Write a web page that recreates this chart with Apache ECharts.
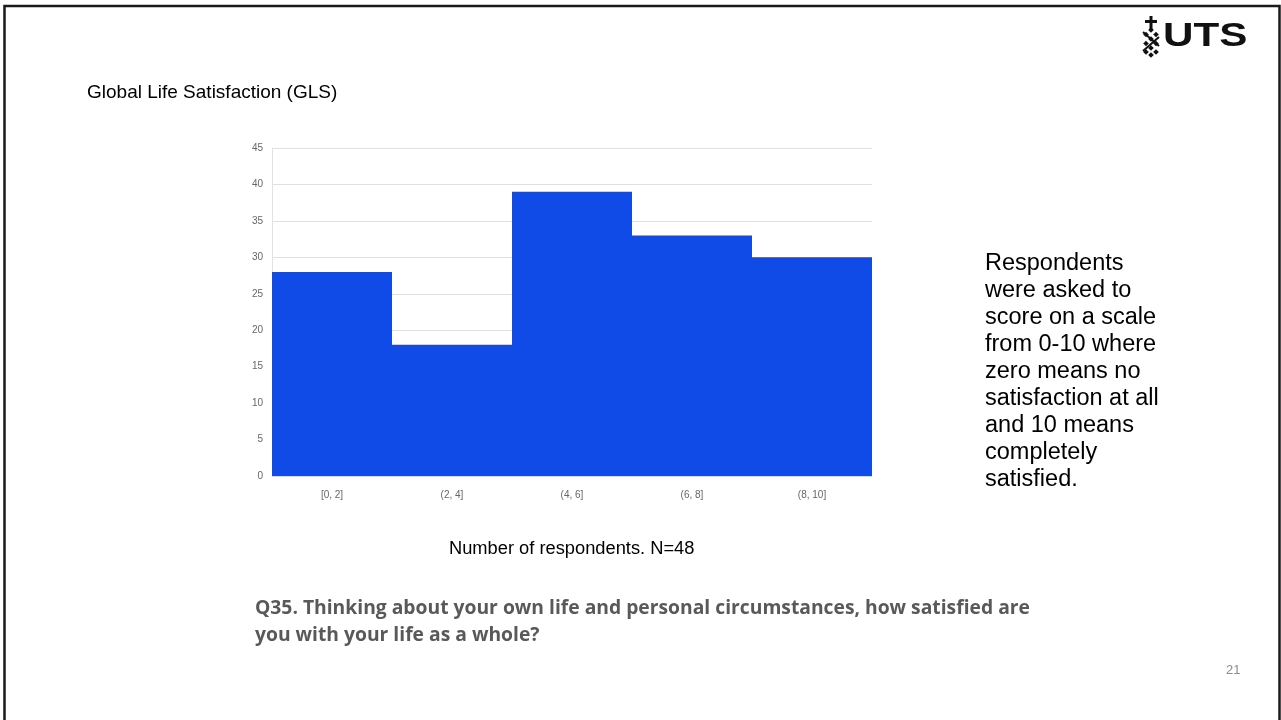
<!DOCTYPE html>
<html>
<head>
<meta charset="utf-8">
<script src="https://cdn.jsdelivr.net/npm/echarts@6/dist/echarts.min.js"></script>
<style>
  html, body { margin: 0; padding: 0; background: #fff; }
  #chart { width: 1281px; height: 720px; }
</style>
</head>
<body>
<div id="chart"></div>
<script>
// Score bins and respondent counts per bin
const bins = ['[0, 2]', '(2, 4]', '(4, 6]', '(6, 8]', '(8, 10]'];
const counts = [28, 18, 39, 33, 30];
const yTicks = [0, 5, 10, 15, 20, 25, 30, 35, 40, 45];

const slideTitle = 'Global Life Satisfaction (GLS)';
const chartCaption = 'Number of respondents. N=48';
const noteLines = [
  'Respondents',
  'were asked to',
  'score on a scale',
  'from 0-10 where',
  'zero means no',
  'satisfaction at all',
  'and 10 means',
  'completely',
  'satisfied.'
];
const questionLines = [
  'Q35. Thinking about your own life and personal circumstances, how satisfied are',
  'you with your life as a whole?'
];
const pageNumber = '21';

const chart = echarts.init(document.getElementById('chart'), null, { renderer: 'canvas' });

const noteText = noteLines.join('\n');
const questionText = questionLines.join('\n');

// UTS emblem: a cross on top of a small lattice of diamonds
const emblem = [];
const ex = 1151, ey = 16;
emblem.push({ type: 'rect', shape: { x: ex - 1.5, y: ey, width: 3, height: 13 }, style: { fill: '#111' } });
emblem.push({ type: 'rect', shape: { x: ex - 6, y: ey + 4, width: 12, height: 3 }, style: { fill: '#111' } });
const diamonds = [
  [0, 14], [-5, 18.5], [5, 18.5], [0, 23], [-5, 27.5], [5, 27.5], [0, 32], [-5, 36], [5, 36], [0, 39]
];
diamonds.forEach(function (d) {
  const cx = ex + d[0], cy = ey + d[1];
  emblem.push({
    type: 'polygon',
    shape: { points: [[cx, cy - 2.8], [cx + 2.8, cy], [cx, cy + 2.8], [cx - 2.8, cy]] },
    style: { fill: '#111' }
  });
});
emblem.push({ type: 'polyline', shape: { points: [[ex - 8, ey + 16], [ex + 8, ey + 30]] }, style: { stroke: '#111', lineWidth: 2 } });
emblem.push({ type: 'polyline', shape: { points: [[ex + 8, ey + 21], [ex - 8, ey + 35]] }, style: { stroke: '#111', lineWidth: 2 } });

chart.setOption({
  animation: false,
  backgroundColor: '#ffffff',
  grid: { left: 272, right: 409, top: 148, bottom: 244, containLabel: false },
  xAxis: {
    type: 'category',
    data: bins,
    axisLine: { show: true, lineStyle: { color: '#d9d9d9', width: 1 } },
    axisTick: { show: false },
    axisLabel: { color: '#666666', fontFamily: 'Liberation Sans, Arial, sans-serif', fontSize: 10, margin: 14 }
  },
  yAxis: {
    type: 'value',
    min: yTicks[0],
    max: yTicks[yTicks.length - 1],
    interval: yTicks[1] - yTicks[0],
    axisLine: { show: true, lineStyle: { color: '#e2e2e2', width: 1 } },
    axisTick: { show: false },
    axisLabel: { color: '#666666', fontFamily: 'Liberation Sans, Arial, sans-serif', fontSize: 10, margin: 9 },
    splitLine: { show: true, lineStyle: { color: '#e0e0e0', width: 1 } }
  },
  series: [{
    type: 'bar',
    data: counts,
    barWidth: '100%',
    barCategoryGap: '0%',
    itemStyle: { color: '#104be8' }
  }],
  graphic: [
    // slide frame
    {
      type: 'rect',
      shape: { x: 4.5, y: 6, width: 1275, height: 730 },
      style: { fill: 'none', stroke: '#1a1a1a', lineWidth: 2.5 },
      silent: true
    },
    {
      type: 'text', left: 87, top: 83,
      style: { text: slideTitle, fill: '#000', font: '19px "Liberation Sans", Arial, sans-serif' }
    },
    {
      type: 'text', x: 1163, y: 20, scaleX: 1.24,
      style: { text: 'UTS', fill: '#111', font: '900 34px "Liberation Sans", Arial, sans-serif' }
    },
    { type: 'group', children: emblem },
    {
      type: 'text', left: 449, top: 540,
      style: { text: chartCaption, fill: '#000', font: '18.3px "Liberation Sans", Arial, sans-serif' }
    },
    {
      type: 'text', left: 985, top: 250,
      style: { text: noteText, fill: '#000', font: '23.5px "Liberation Sans", Arial, sans-serif', lineHeight: 27 }
    },
    {
      type: 'text', left: 255, top: 595,
      style: { text: questionText, fill: '#595959', font: 'bold 19.3px "Open Sans", sans-serif', lineHeight: 27 }
    },
    {
      type: 'text', left: 1226, top: 664,
      style: { text: pageNumber, fill: '#8c8c8c', font: '13px "Liberation Sans", Arial, sans-serif' }
    }
  ]
});
</script>
</body>
</html>
